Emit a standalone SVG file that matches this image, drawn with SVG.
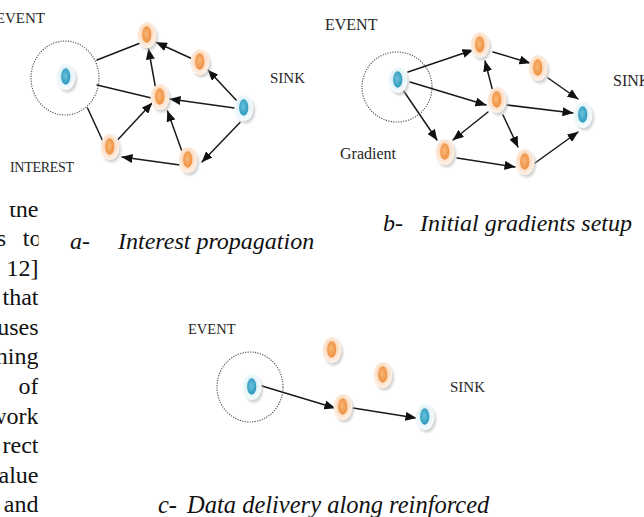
<svg xmlns="http://www.w3.org/2000/svg" xmlns:xlink="http://www.w3.org/1999/xlink" width="644" height="517" viewBox="0 0 644 517">
  <style>
    .lbl { font-family: "Liberation Serif", "Times New Roman", serif; fill: #262626; }
    .cap { font-family: "Liberation Serif", "Times New Roman", serif; font-style: italic; font-size: 24px; fill: #111; }
    .body { font-family: "Liberation Serif", "Times New Roman", serif; font-size: 24px; fill: #111; }
    .edge { stroke: #1a1a1a; stroke-width: 1.5; fill: none; stroke-linecap: round; }
    .arrow { marker-end: url(#ah); }
    .range { fill: none; stroke: #5a5a5a; stroke-width: 1.2; stroke-dasharray: 1.2 1.3; }
  </style>
  <defs>
    <marker id="ah" markerWidth="11" markerHeight="9" refX="10.5" refY="4.5" orient="auto" markerUnits="userSpaceOnUse">
      <path d="M0,0 L11,4.5 L0,9 z" fill="#111"/>
    </marker>
    <filter id="soft" x="-50%" y="-50%" width="200%" height="200%">
      <feGaussianBlur stdDeviation="1.2"/>
    </filter>
    <radialGradient id="haloO" cx="0.48" cy="0.45" r="0.6">
      <stop offset="0.3" stop-color="#fbcfaa"/>
      <stop offset="0.7" stop-color="#fde9d9"/>
      <stop offset="1" stop-color="#fff7f0"/>
    </radialGradient>
    <radialGradient id="coreO" cx="0.45" cy="0.45" r="0.6">
      <stop offset="0" stop-color="#f8b878"/>
      <stop offset="1" stop-color="#ee8c3c"/>
    </radialGradient>
    <radialGradient id="haloB" cx="0.48" cy="0.45" r="0.6">
      <stop offset="0.3" stop-color="#d2edf5"/>
      <stop offset="0.7" stop-color="#eef8fb"/>
      <stop offset="1" stop-color="#fbfeff"/>
    </radialGradient>
    <radialGradient id="coreB" cx="0.45" cy="0.45" r="0.6">
      <stop offset="0" stop-color="#6cc3dc"/>
      <stop offset="1" stop-color="#2795bb"/>
    </radialGradient>
    <!-- sensor node glyphs, drawn around the origin -->
    <g id="nodeO">
      <ellipse cx="1.8" cy="2.6" rx="9.5" ry="13" fill="#b5b5b5" opacity="0.6" filter="url(#soft)"/>
      <ellipse cx="0" cy="0" rx="9.5" ry="13" fill="url(#haloO)"/>
      <ellipse cx="-0.3" cy="-0.5" rx="4.6" ry="8.2" fill="url(#coreO)"/>
    </g>
    <g id="nodeB">
      <ellipse cx="1.8" cy="2.6" rx="9.5" ry="13" fill="#b5b5b5" opacity="0.6" filter="url(#soft)"/>
      <ellipse cx="0" cy="0" rx="9.5" ry="13" fill="url(#haloB)"/>
      <ellipse cx="-0.3" cy="-0.5" rx="4.6" ry="8.2" fill="url(#coreB)"/>
    </g>
    <clipPath id="colClip">
      <rect x="0" y="206" width="38.5" height="311"/>
    </clipPath>
  </defs>

  <rect width="644" height="517" fill="#fff"/>

  <!-- body text column at the left edge -->
  <g id="column" class="body" clip-path="url(#colClip)" text-anchor="end">
    <text x="38.5" y="216.5">the</text>
    <text x="6" y="246">s</text>
    <text x="41.5" y="246">to</text>
    <text x="38.5" y="275.6">12]</text>
    <text x="38.5" y="305.2">that</text>
    <text x="38.5" y="334.8">uses</text>
    <text x="38.5" y="364.4">hing</text>
    <text x="38.5" y="394">of</text>
    <text x="38.5" y="423.6">work</text>
    <text x="38.5" y="453.2">rect</text>
    <text x="38.5" y="482.8">alue</text>
    <text x="38.5" y="512.4">and</text>
  </g>

  <!-- panel a: interest propagation -->
  <g id="panel-a">
    <g id="a-range"><ellipse class="range" cx="65" cy="78" rx="34" ry="37"/></g>
    <g id="a-connectors">
      <line class="edge" x1="97" y1="60" x2="139" y2="43.5"/>
      <line class="edge arrow" x1="191.5" y1="58.5" x2="156.5" y2="42.5"/>
      <line class="edge arrow" x1="155.5" y1="87.5" x2="148.5" y2="49"/>
      <line class="edge arrow" x1="237.5" y1="101.5" x2="208" y2="70"/>
      <line class="edge arrow" x1="234.5" y1="108" x2="170" y2="99"/>
      <line class="edge" x1="97" y1="85" x2="151.5" y2="98"/>
      <line class="edge arrow" x1="118" y1="139.5" x2="152" y2="103"/>
      <line class="edge arrow" x1="182" y1="151.5" x2="167.5" y2="111"/>
      <line class="edge arrow" x1="240" y1="122.5" x2="202" y2="162"/>
      <line class="edge arrow" x1="180" y1="165" x2="122" y2="157"/>
      <line class="edge" x1="87.5" y1="108" x2="103" y2="141.5"/>
    </g>
    <g id="a-event"><use xlink:href="#nodeB" x="66" y="77"/></g>
    <g id="a-n1"><use xlink:href="#nodeO" x="147" y="35"/></g>
    <g id="a-n2"><use xlink:href="#nodeO" x="200" y="62"/></g>
    <g id="a-n3"><use xlink:href="#nodeO" x="160" y="97"/></g>
    <g id="a-sink"><use xlink:href="#nodeB" x="244" y="108"/></g>
    <g id="a-n5"><use xlink:href="#nodeO" x="110" y="147"/></g>
    <g id="a-n6"><use xlink:href="#nodeO" x="188" y="160"/></g>
    <text class="lbl" x="45" y="23" font-size="15" text-anchor="end">EVENT</text>
    <text class="lbl" x="270" y="83" font-size="15">SINK</text>
    <text class="lbl" x="10" y="172" font-size="14" letter-spacing="-0.3">INTEREST</text>
  </g>

  <!-- panel b: initial gradients setup -->
  <g id="panel-b">
    <g id="b-range"><ellipse class="range" cx="397" cy="87" rx="35" ry="35"/></g>
    <g id="b-connectors">
      <line class="edge arrow" x1="408" y1="72" x2="473" y2="50"/>
      <line class="edge arrow" x1="493" y1="52" x2="530" y2="63"/>
      <line class="edge arrow" x1="548" y1="78" x2="578" y2="99"/>
      <line class="edge arrow" x1="493" y1="92" x2="485" y2="61"/>
      <line class="edge arrow" x1="410" y1="82" x2="486" y2="105"/>
      <line class="edge arrow" x1="507" y1="105" x2="573" y2="113"/>
      <line class="edge arrow" x1="403" y1="90" x2="437" y2="140"/>
      <line class="edge arrow" x1="488" y1="112" x2="453" y2="140"/>
      <line class="edge arrow" x1="503" y1="115" x2="518" y2="147"/>
      <line class="edge arrow" x1="457" y1="158" x2="515" y2="167"/>
      <line class="edge arrow" x1="535" y1="163" x2="578" y2="132"/>
    </g>
    <g id="b-event"><use xlink:href="#nodeB" x="398" y="80"/></g>
    <g id="b-n1"><use xlink:href="#nodeO" x="480" y="45"/></g>
    <g id="b-n2"><use xlink:href="#nodeO" x="538" y="68"/></g>
    <g id="b-n3"><use xlink:href="#nodeO" x="497" y="100"/></g>
    <g id="b-sink"><use xlink:href="#nodeB" x="583" y="115"/></g>
    <g id="b-n5"><use xlink:href="#nodeO" x="445" y="152"/></g>
    <g id="b-n6"><use xlink:href="#nodeO" x="525" y="162"/></g>
    <text class="lbl" x="325" y="30" font-size="16">EVENT</text>
    <text class="lbl" x="613" y="86" font-size="16">SINK</text>
    <text class="lbl" x="340" y="159" font-size="16">Gradient</text>
  </g>

  <!-- panel c: data delivery -->
  <g id="panel-c">
    <g id="c-range"><ellipse class="range" cx="250" cy="387" rx="33" ry="35"/></g>
    <g id="c-connectors">
      <line class="edge arrow" x1="262" y1="386" x2="335" y2="408"/>
      <line class="edge arrow" x1="353" y1="408" x2="416" y2="418"/>
    </g>
    <g id="c-event"><use xlink:href="#nodeB" x="252" y="387"/></g>
    <g id="c-n1"><use xlink:href="#nodeO" x="332" y="350"/></g>
    <g id="c-n2"><use xlink:href="#nodeO" x="383" y="375"/></g>
    <g id="c-n3"><use xlink:href="#nodeO" x="343" y="407"/></g>
    <g id="c-sink"><use xlink:href="#nodeB" x="425" y="417"/></g>
    <text class="lbl" x="188" y="334" font-size="14.5">EVENT</text>
    <text class="lbl" x="450" y="392" font-size="15">SINK</text>
  </g>

  <!-- captions -->
  <g id="captions" class="cap">
    <text x="70" y="249">a-</text>
    <text x="118" y="249">Interest propagation</text>
    <text x="383" y="231">b-</text>
    <text x="420" y="231">Initial gradients setup</text>
    <text x="158" y="513" font-size="24.5">c-</text>
    <text x="187" y="513" font-size="24.5">Data delivery along reinforced</text>
  </g>
</svg>
